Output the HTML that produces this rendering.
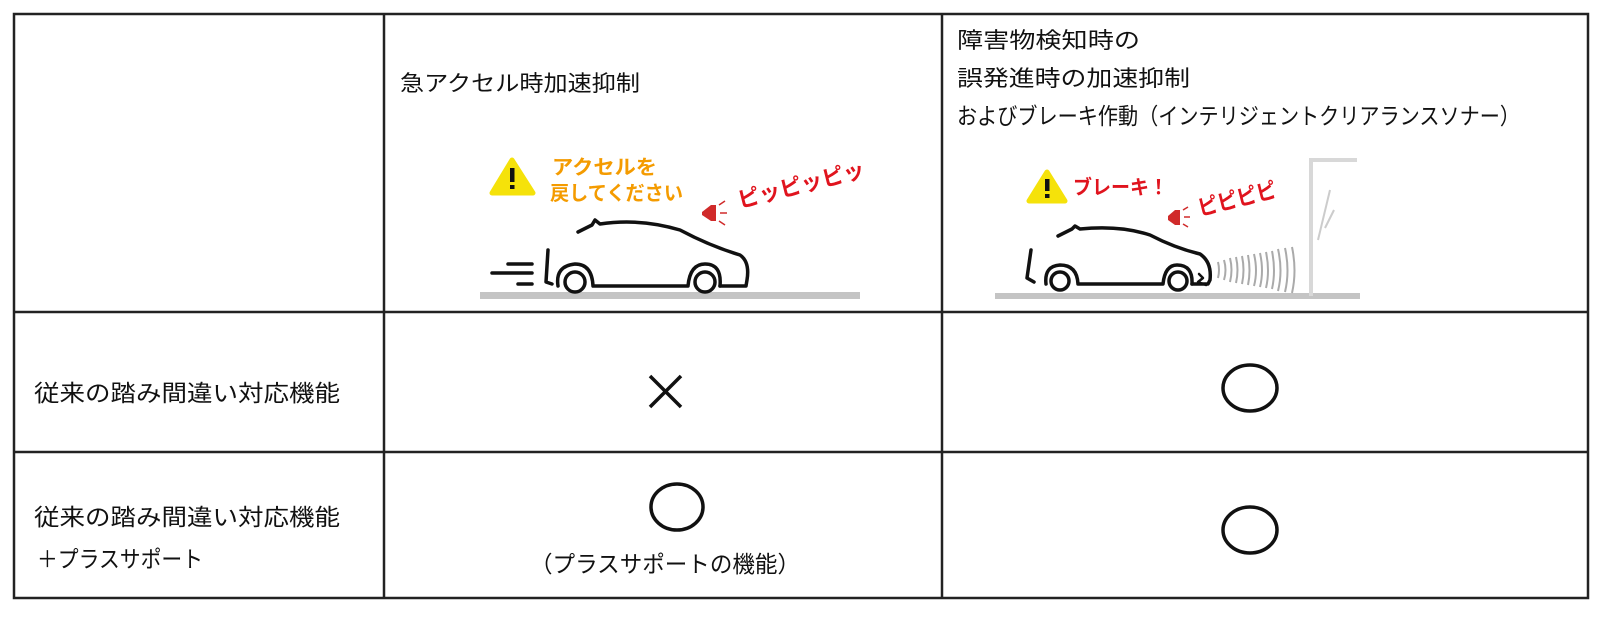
<!DOCTYPE html>
<html><head><meta charset="utf-8"><style>
html,body{margin:0;padding:0;background:#fff;width:1600px;height:623px;overflow:hidden}
text{font-family:"Liberation Sans","Noto Sans CJK JP",sans-serif;fill:#111}
</style></head><body>
<svg width="1600" height="623" viewBox="0 0 1600 623" xmlns="http://www.w3.org/2000/svg">
<rect width="1600" height="623" fill="#fff"/>
<g stroke="#222" stroke-width="2.5" fill="none">
<rect x="14" y="14" width="1574" height="584"/>
<line x1="384" y1="14" x2="384" y2="598"/>
<line x1="942" y1="14" x2="942" y2="598"/>
<line x1="14" y1="312" x2="1588" y2="312"/>
<line x1="14" y1="452" x2="1588" y2="452"/>
</g>
<text x="400" y="91" font-size="22" textLength="240" lengthAdjust="spacingAndGlyphs">急アクセル時加速抑制</text>
<text x="957" y="48" font-size="22" textLength="183" lengthAdjust="spacingAndGlyphs">障害物検知時の</text>
<text x="957" y="86" font-size="22" textLength="233" lengthAdjust="spacingAndGlyphs">誤発進時の加速抑制</text>
<text x="957" y="124" font-size="23" textLength="563" lengthAdjust="spacingAndGlyphs">およびブレーキ作動（インテリジェントクリアランスソナー）</text>
<text x="34" y="401" font-size="23" textLength="306" lengthAdjust="spacingAndGlyphs">従来の踏み間違い対応機能</text>
<text x="34" y="525" font-size="23" textLength="306" lengthAdjust="spacingAndGlyphs">従来の踏み間違い対応機能</text>
<text x="37" y="567" font-size="23" textLength="166" lengthAdjust="spacingAndGlyphs">＋プラスサポート</text>
<text x="530" y="572" font-size="23" textLength="270" lengthAdjust="spacingAndGlyphs">（プラスサポートの機能）</text>
<g stroke="#111" stroke-width="3.5" fill="none">
<line x1="650" y1="376" x2="681" y2="407"/><line x1="681" y1="376" x2="650" y2="407"/>
<ellipse cx="1250" cy="388" rx="27" ry="23"/>
<ellipse cx="677" cy="507" rx="26" ry="23"/>
<ellipse cx="1250" cy="530" rx="27" ry="23"/>
</g>
<!-- illustration 1 -->
<rect x="480" y="292" width="380" height="7" fill="#c4c4c4"/>
<polygon points="492,193 512,160 533,193" fill="#f5e20a" stroke="#f5e20a" stroke-width="5" stroke-linejoin="round"/>
<rect x="510" y="168" width="4.5" height="14" fill="#111"/><rect x="510" y="185" width="4.5" height="4" fill="#111"/>
<text x="552" y="174" font-size="20" style="fill:#f49b00" font-weight="bold" textLength="105" lengthAdjust="spacingAndGlyphs">アクセルを</text>
<text x="550" y="200" font-size="20" style="fill:#f49b00" font-weight="bold" textLength="133" lengthAdjust="spacingAndGlyphs">戻してください</text>
<polygon points="702,212 711,205 716,205 716,221 711,221 702,215" fill="#d02a2a"/>
<g stroke="#d02a2a" stroke-width="1.5"><line x1="719" y1="205" x2="725" y2="201"/><line x1="720" y1="213" x2="727" y2="213"/><line x1="719" y1="221" x2="725" y2="225"/></g>
<text x="740" y="208" font-size="22" font-weight="bold" style="fill:#e0141e" transform="rotate(-14 740 208)" textLength="130" lengthAdjust="spacingAndGlyphs">ピッピッピッ</text>
<g stroke="#111" stroke-width="3.5" fill="none" stroke-linecap="round" stroke-linejoin="round">
<line x1="492" y1="273" x2="532" y2="273"/><line x1="508" y1="264" x2="532" y2="264"/><line x1="518" y1="284" x2="532" y2="284"/>
<path d="M548,250 L546,282 L552,284"/>
<path d="M578,232 L592,225 L595,220 L600,224 Q640,218 680,230 Q710,246 740,255 Q750,262 747,280 L746,286 L720,286"/>
<path d="M558,286 Q555,266 575,264 Q592,264 593,286 L688,286 Q690,264 705,264 Q722,264 720,286"/>
<circle cx="575" cy="282" r="10"/><circle cx="705" cy="282" r="10"/>
</g>
<!-- illustration 2 -->
<rect x="995" y="293" width="365" height="6" fill="#c4c4c4"/>
<g stroke="#d8d8d8" stroke-width="4" fill="none"><path d="M1311,296 L1311,160 L1357,160"/></g>
<g stroke="#ccc" stroke-width="2"><line x1="1318" y1="240" x2="1330" y2="190"/><line x1="1325" y1="228" x2="1334" y2="210"/></g>
<g stroke="#aaa" stroke-width="2" fill="none">
<path d="M1218,262 q2,8 0,16"/><path d="M1224,260 q3,10 0,20"/><path d="M1230,258 q3,12 0,24"/><path d="M1236,257 q3,13 0,26"/><path d="M1242,256 q3,14 0,28"/><path d="M1248,255 q3,16 0,30"/><path d="M1254,254 q4,17 0,32"/><path d="M1260,253 q4,18 0,34"/><path d="M1266,252 q4,19 0,36"/><path d="M1272,251 q4,20 0,38"/><path d="M1278,249 q5,22 0,42"/><path d="M1285,248 q5,23 0,44"/><path d="M1292,247 q5,24 0,46"/>
</g>
<polygon points="1029,201 1047,172 1065,201" fill="#f5e20a" stroke="#f5e20a" stroke-width="5" stroke-linejoin="round"/>
<rect x="1045" y="179" width="4.5" height="12" fill="#111"/><rect x="1045" y="194" width="4.5" height="4" fill="#111"/>
<text x="1073" y="194" font-size="20" font-weight="bold" style="fill:#e0141e" textLength="95" lengthAdjust="spacingAndGlyphs">ブレーキ！</text>
<polygon points="1168,216 1175,210 1180,210 1180,225 1175,225 1168,220" fill="#d02a2a"/>
<g stroke="#d02a2a" stroke-width="1.5"><line x1="1183" y1="210" x2="1188" y2="207"/><line x1="1184" y1="217" x2="1190" y2="217"/><line x1="1183" y1="224" x2="1188" y2="227"/></g>
<text x="1200" y="216" font-size="22" font-weight="bold" style="fill:#e0141e" transform="rotate(-14 1200 216)" textLength="80" lengthAdjust="spacingAndGlyphs">ピピピピ</text>
<g stroke="#111" stroke-width="3.5" fill="none" stroke-linecap="round" stroke-linejoin="round">
<path d="M1031,250 L1027,278 L1034,282"/>
<path d="M1058,236 L1072,229 L1075,226 L1080,229 Q1120,225 1150,235 Q1175,248 1200,254 Q1212,262 1210,280 L1208,284 L1192,284"/>
<path d="M1046,284 Q1044,266 1060,265 Q1077,265 1078,284 L1163,284 Q1165,265 1177,265 Q1193,265 1192,284"/>
<circle cx="1060" cy="281" r="9"/><circle cx="1178" cy="281" r="9"/>
<path d="M1199,274 L1203,278 L1198,282 L1206,285" stroke-width="2.5"/>
</g>
</svg>
</body></html>
